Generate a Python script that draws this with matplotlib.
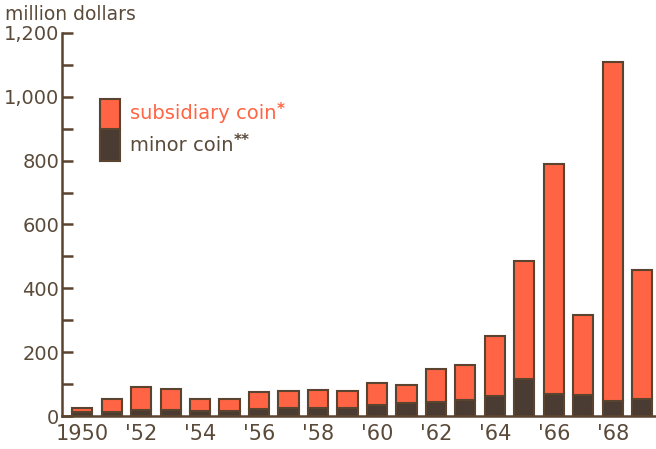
import matplotlib
matplotlib.use('Agg')
import matplotlib.pyplot as plt
from matplotlib.patches import Rectangle
import numpy as np

plt.rcParams.update({
    'font.family': ['DejaVu Sans'],
    'font.size': 14,
})

# data (million dollars)
years = np.arange(1950, 1970)
minor = [11, 14, 18, 20, 17, 17, 23, 26, 24, 26,
         36, 40, 44, 50, 62, 116, 69, 67, 47, 53]
subsidiary = [13, 40, 72, 64, 37, 37, 52, 52, 57, 53,
              68, 56, 102, 110, 189, 371, 721, 250, 1063, 406]
xtick_years = [1950, 1952, 1954, 1956, 1958, 1960, 1962, 1964, 1966, 1968]
xtick_labels = ['1950', "'52", "'54", "'56", "'58", "'60", "'62", "'64", "'66", "'68"]
ytick_vals = [0, 200, 400, 600, 800, 1000, 1200]
ytick_labels = ['0', '200', '400', '600', '800', '1,000', '1,200']

ORANGE = '#FF6444'
DARK = '#4A3B33'
EDGE = '#5A4430'
TEXT = '#5A4A3A'

fig = plt.figure(figsize=(6.56, 4.49), dpi=100)
ax = fig.add_axes([62/656, 33/449, 594/656, 383/449])

w = 0.68
ax.bar(years, minor, width=w, color=DARK, edgecolor=EDGE, linewidth=1.5, zorder=2)
ax.bar(years, subsidiary, width=w, bottom=minor, color=ORANGE, edgecolor=EDGE,
       linewidth=1.5, zorder=2)

ax.set_xlim(1949.32, 1969.46)
ax.set_ylim(0, 1200)

for s in ['top', 'right']:
    ax.spines[s].set_visible(False)
for s in ['left', 'bottom']:
    ax.spines[s].set_color(EDGE)
    ax.spines[s].set_linewidth(1.8)

ax.set_yticks(ytick_vals)
ax.set_yticklabels(ytick_labels)
ax.set_yticks(np.arange(100, 1200, 200), minor=True)
ax.tick_params(axis='y', which='both', direction='in', length=8, width=1.8,
               color=EDGE, labelcolor=TEXT, labelsize=14, pad=2)
ax.set_xticks(xtick_years)
ax.set_xticklabels(xtick_labels)
ax.tick_params(axis='x', length=0, labelcolor=TEXT, labelsize=15, pad=6)

# legend drawn by hand
ax.add_patch(Rectangle((0.064, 0.667), 0.034, 0.083, transform=ax.transAxes,
                       facecolor=DARK, edgecolor=EDGE, lw=1.5, clip_on=False))
ax.add_patch(Rectangle((0.064, 0.750), 0.034, 0.078, transform=ax.transAxes,
                       facecolor=ORANGE, edgecolor=EDGE, lw=1.5, clip_on=False))
t1 = ax.text(0.114, 0.789, 'subsidiary coin', transform=ax.transAxes,
             color=ORANGE, fontsize=14, va='center', ha='left')
ax.annotate('*', xy=(1, 1), xycoords=t1, xytext=(0, 2), textcoords='offset points',
            color=ORANGE, fontsize=11, va='top', ha='left', fontweight='bold')
t2 = ax.text(0.114, 0.706, 'minor coin', transform=ax.transAxes,
             color=TEXT, fontsize=14, va='center', ha='left')
ax.annotate('**', xy=(1, 1), xycoords=t2, xytext=(0, 2), textcoords='offset points',
            color=TEXT, fontsize=11, va='top', ha='left', fontweight='bold')

fig.text(5/656, 1 - 20/449, 'million dollars', color=TEXT, fontsize=13.5,
         va='baseline', ha='left')

fig.savefig('out.png', dpi=100)
